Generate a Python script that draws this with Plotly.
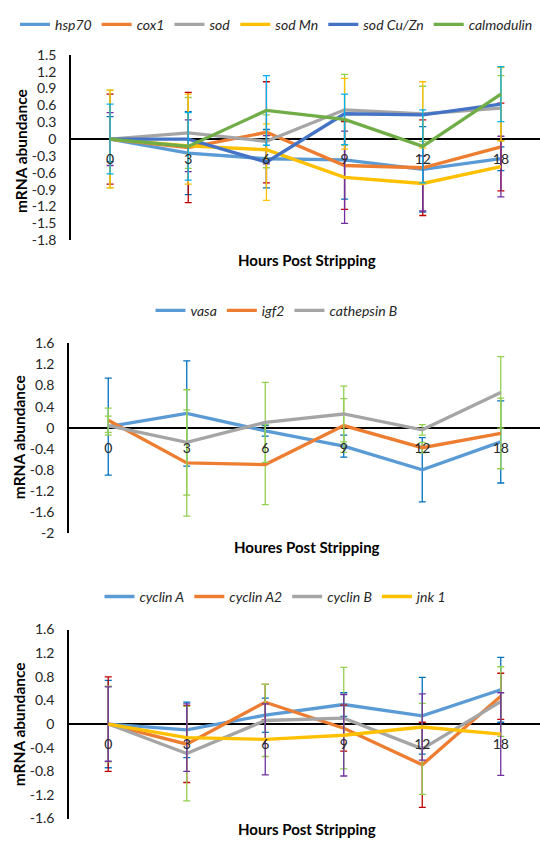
import plotly.graph_objects as go

W, H = 540, 843
FONT = "Lato"

hours = ["0", "3", "6", "9", "12", "18"]

# ---------------- Panel 1 ----------------
p1_names = ["hsp70", "cox1", "sod", "sod Mn", "sod Cu/Zn", "calmodulin"]
hsp70 = [0, -0.25, -0.35, -0.37, -0.54, -0.35]
cox1 = [0, -0.15, 0.12, -0.47, -0.51, -0.14]
sod = [0, 0.11, -0.04, 0.52, 0.45, 0.55]
sod_mn = [0, -0.12, -0.19, -0.68, -0.79, -0.49]
sod_cuzn = [0, 0.0, -0.41, 0.45, 0.43, 0.62]
calmodulin = [0, -0.13, 0.51, 0.35, -0.13, 0.80]
hsp70_err = [0.40, 0.74, 0.52, 0.70, 0.76, 0.21]
cox1_err = [0.80, 0.98, 0.90, 0.78, 0.85, 0.78]
sod_err = [0.87, 0.63, 0.47, 0.63, 0.49, 0.58]
sod_mn_err = [0.47, 0.46, 0.25, 0.82, 0.49, 0.54]
sod_cuzn_err = [0.87, 0.80, 0.68, 0.63, 0.59, 0.65]
calmodulin_err = [0.62, 0.60, 0.62, 0.45, 0.65, 0.49]
p1_vals = [hsp70, cox1, sod, sod_mn, sod_cuzn, calmodulin]
p1_errs = [hsp70_err, cox1_err, sod_err, sod_mn_err, sod_cuzn_err, calmodulin_err]
p1_colors = ["#5B9BD5", "#ED7D31", "#A5A5A5", "#FFC000", "#4472C4", "#70AD47"]
p1_errcolors = ["#0070C0", "#C00000", "#92D050", "#7030A0", "#FFC000", "#00B0F0"]
p1_ticks = [1.5, 1.2, 0.9, 0.6, 0.3, 0, -0.3, -0.6, -0.9, -1.2, -1.5, -1.8]
p1_ticktext = ["1.5", "1.2", "0.9", "0.6", "0.3", "0", "-0.3", "-0.6", "-0.9", "-1.2", "-1.5", "-1.8"]

# ---------------- Panel 2 ----------------
p2_names = ["vasa", "igf2", "cathepsin B"]
vasa = [0.02, 0.27, -0.06, -0.35, -0.80, -0.27]
igf2 = [0.14, -0.67, -0.70, 0.04, -0.38, -0.11]
cathepsin_b = [0.04, -0.28, 0.10, 0.26, -0.04, 0.67]
vasa_err = [0.92, 1.00, 0.10, 0.21, 0.61, 0.78]
igf2_err = [0.23, 1.01, 0.76, 0.51, 0.10, 0.67]
cathepsin_b_err = [0.18, 1.00, 0.76, 0.53, 0.10, 0.68]
p2_vals = [vasa, igf2, cathepsin_b]
p2_errs = [vasa_err, igf2_err, cathepsin_b_err]
p2_colors = ["#5B9BD5", "#ED7D31", "#A5A5A5"]
p2_errcolors = ["#0070C0", "#92D050", "#92D050"]
p2_ticks = [1.6, 1.2, 0.8, 0.4, 0, -0.4, -0.8, -1.2, -1.6, -2]
p2_ticktext = ["1.6", "1.2", "0.8", "0.4", "0", "-0.4", "-0.8", "-1.2", "-1.6", "-2"]

# ---------------- Panel 3 ----------------
p3_names = ["cyclin A", "cyclin A2", "cyclin B", "jnk 1"]
cyclin_a = [0, -0.10, 0.15, 0.33, 0.14, 0.58]
cyclin_a2 = [0, -0.34, 0.37, -0.07, -0.69, 0.47]
cyclin_b = [0, -0.50, 0.06, 0.10, -0.42, 0.38]
jnk1 = [0, -0.23, -0.26, -0.19, -0.05, -0.17]
cyclin_a_err = [0.74, 0.47, 0.29, 0.20, 0.65, 0.55]
cyclin_a2_err = [0.80, 0.65, 0.30, 0.39, 0.72, 0.39]
cyclin_b_err = [0.64, 0.80, 0.61, 0.86, 0.77, 0.59]
jnk1_err = [0.63, 0.57, 0.60, 0.69, 0.56, 0.70]
p3_vals = [cyclin_a, cyclin_a2, cyclin_b, jnk1]
p3_errs = [cyclin_a_err, cyclin_a2_err, cyclin_b_err, jnk1_err]
p3_colors = ["#5B9BD5", "#ED7D31", "#A5A5A5", "#FFC000"]
p3_errcolors = ["#0070C0", "#C00000", "#92D050", "#7030A0"]
p3_ticks = [1.6, 1.2, 0.8, 0.4, 0, -0.4, -0.8, -1.2, -1.6]
p3_ticktext = ["1.6", "1.2", "0.8", "0.4", "0", "-0.4", "-0.8", "-1.2", "-1.6"]

x_titles = ["Hours Post Stripping", "Houres Post Stripping", "Hours Post Stripping"]
y_title = "mRNA abundance"

# ---------------- layout geometry (pixels) ----------------
panels = [
    dict(names=p1_names, vals=p1_vals, errs=p1_errs, colors=p1_colors, ecolors=p1_errcolors,
         ticks=p1_ticks, ticktext=p1_ticktext, ytop=46.7, ybot=236.0, xl=71,
         leg_y=16, xt_y=256.5, yt_x=21, yt_y=145),
    dict(names=p2_names, vals=p2_vals, errs=p2_errs, colors=p2_colors, ecolors=p2_errcolors,
         ticks=p2_ticks, ticktext=p2_ticktext, ytop=341.3, ybot=534.8, xl=69,
         leg_y=308, xt_y=548.6, yt_x=19, yt_y=437),
    dict(names=p3_names, vals=p3_vals, errs=p3_errs, colors=p3_colors, ecolors=p3_errcolors,
         ticks=p3_ticks, ticktext=p3_ticktext, ytop=633.3, ybot=826.2, xl=69,
         leg_y=600, xt_y=836.5, yt_x=19, yt_y=730),
]

fig = go.Figure()
annotations = []
layout = dict(
    width=W, height=H, margin=dict(l=0, r=0, t=0, b=0),
    paper_bgcolor="white", plot_bgcolor="white",
    font=dict(family=FONT, color="#000000"),
    showlegend=True,
)

for i, p in enumerate(panels):
    k = "" if i == 0 else str(i + 1)
    xa, ya = "x" + k, "y" + k
    leg = "legend" + k
    for name, v, e, c, ec in zip(p["names"], p["vals"], p["errs"], p["colors"], p["ecolors"]):
        fig.add_trace(go.Scatter(
            x=hours, y=v, name=name, mode="lines",
            line=dict(color=c, width=3.3),
            error_y=dict(type="data", array=e, visible=True, color=ec, thickness=1.3, width=3.5),
            xaxis=xa, yaxis=ya, legend=leg, hoverinfo="skip",
        ))
    ymin, ymax = min(p["ticks"]), max(p["ticks"])
    d0 = 1 - p["ybot"] / H
    d1 = 1 - p["ytop"] / H
    zero_pos = d0 + (0 - ymin) / (ymax - ymin) * (d1 - d0)
    layout["xaxis" + k] = dict(
        domain=[p["xl"] / W, 1], anchor="free", position=zero_pos,
        type="category", range=[-0.5, 5.5], showline=False, showgrid=False,
        zeroline=False, ticks="", ticklabelstandoff=10,
        tickfont=dict(family=FONT, size=14, color="#262626"),
    )
    layout["yaxis" + k] = dict(
        domain=[d0, d1], anchor=xa, range=[ymin, ymax],
        showline=True, linecolor="#000000", linewidth=1.5,
        zeroline=True, zerolinecolor="#000000", zerolinewidth=1.5,
        showgrid=False, ticks="", tickvals=p["ticks"], ticktext=p["ticktext"],
        ticklabelstandoff=10, tickfont=dict(family=FONT, size=14, color="#262626"),
    )
    layout[leg] = dict(
        orientation="h", x=0.512, xanchor="center", y=1 - p["leg_y"] / H, yanchor="middle",
        font=dict(family=FONT, size=14, color="#262626", style="italic"),
        bgcolor="rgba(0,0,0,0)", itemwidth=30, tracegroupgap=0,
    )
    annotations.append(dict(
        text="<b>%s</b>" % x_titles[i], x=307 / W, y=1 - p["xt_y"] / H,
        xref="paper", yref="paper", showarrow=False, xanchor="center", yanchor="middle",
        font=dict(family=FONT, size=15, color="#000000"),
    ))
    annotations.append(dict(
        text="<b>%s</b>" % y_title, x=p["yt_x"] / W, y=1 - p["yt_y"] / H,
        xref="paper", yref="paper", showarrow=False, xanchor="center", yanchor="middle",
        textangle=-90, font=dict(family=FONT, size=15.5, color="#000000"),
    ))

layout["annotations"] = annotations
fig.update_layout(**layout)
fig.write_html("out.html")
